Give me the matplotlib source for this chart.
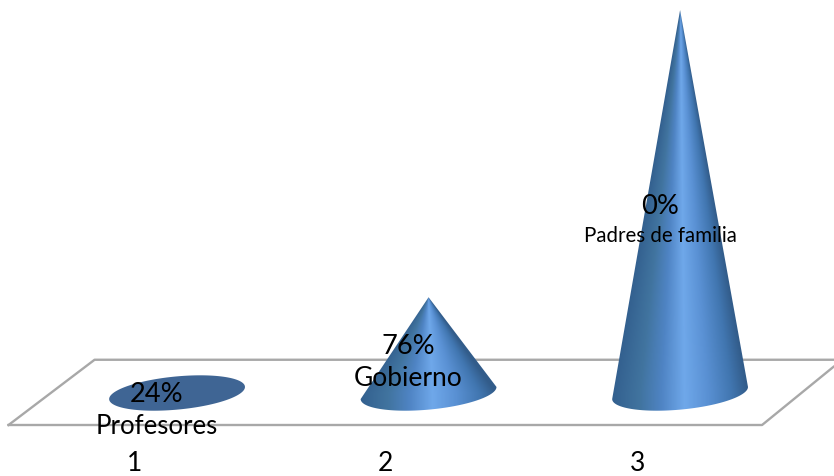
from matplotlib import pyplot as plt
from matplotlib.colors import LinearSegmentedColormap
from matplotlib.patches import Polygon
import numpy as np

plt.rcParams['font.family'] = ['Lato', 'DejaVu Sans']

# data
categories = [1, 2, 3]
heights = [0, 19, 76]
percent_labels = ['24%', '76%', '0%']
name_labels = ['Profesores', 'Gobierno', 'Padres de familia']

# layout, in data units
half_w = 0.27
half_h = 3.3
tilt = 1.2
percent_y = [-0.1, 9.4, 37.3]
name_y = [-6.4, 3.1, 31.4]
name_size = [18.5, 19, 14.8]
label_dx = -0.08

cone_cmap = LinearSegmentedColormap.from_list('cone', [
    (0.0, '#33608f'), (0.2, '#41749f'), (0.36, '#4f84c4'), (0.53, '#6fa8ea'),
    (0.7, '#5a91d4'), (0.88, '#4176b0'), (1.0, '#325c8a'),
])

fig = plt.figure(figsize=(8.34, 4.77), dpi=100)
ax = fig.add_axes([0, 51 / 477, 1, 426 / 477])
ax.set_xticks([c - 0.171 for c in categories])
ax.set_xticklabels(categories, fontsize=19)
ax.tick_params(axis='x', length=0, pad=18)
ax.set_yticks([])
for s in ax.spines.values():
    s.set_visible(False)

# floor
floor_x = [0.33, 0.672, 3.61, 3.61, 3.326, 0.33]
floor_y = [-6.35, 6.6, 6.6, 5.2, -6.35, -6.35]
ax.plot(floor_x[:3], floor_y[:3], color='#a8a8a8', lw=1.7, clip_on=False, zorder=1)
ax.plot(floor_x[3:], floor_y[3:], color='#a8a8a8', lw=1.7, clip_on=False, zorder=1)

for c, h in zip(categories, heights):
    t = np.linspace(0, 2 * np.pi, 200)
    ex = c + half_w * np.cos(t)
    ey = tilt * np.cos(t) - half_h * np.sin(t)
    if h == 0:
        ax.fill(ex, ey, color='#3f6594', lw=0, zorder=2)
        continue
    t = np.linspace(0, np.pi, 100)
    bx = c + half_w * np.cos(t)
    by = tilt * np.cos(t) - half_h * np.sin(t)
    outline = np.column_stack([np.r_[c, bx], np.r_[h, by]])
    xs = np.linspace(c - half_w - 0.01, c + half_w + 0.01, 300)
    ys = np.linspace(-half_h - tilt, h, 500)
    X, Y = np.meshgrid(xs, ys)
    frac = np.clip((h - Y) / h, 0.004, 1)
    U = np.clip((X - c) / (half_w * frac), -1, 1)
    im = ax.imshow(U, extent=[xs[0], xs[-1], ys[0], ys[-1]], origin='lower', aspect='auto',
                   cmap=cone_cmap, vmin=-1, vmax=1, zorder=2, interpolation='bilinear')
    im.set_clip_path(Polygon(outline, closed=True, transform=ax.transData))

ax.set_xlim(0.296, 3.612)
ax.set_ylim(-6.35, 78.2)

for i, c in enumerate(categories):
    ax.text(c + label_dx, percent_y[i], percent_labels[i], fontsize=19.6, ha='center', va='center', color='black', zorder=3)
    ax.text(c + label_dx, name_y[i], name_labels[i], fontsize=name_size[i], ha='center', va='center', color='black', zorder=3)

plt.savefig('out.png', dpi=100)
